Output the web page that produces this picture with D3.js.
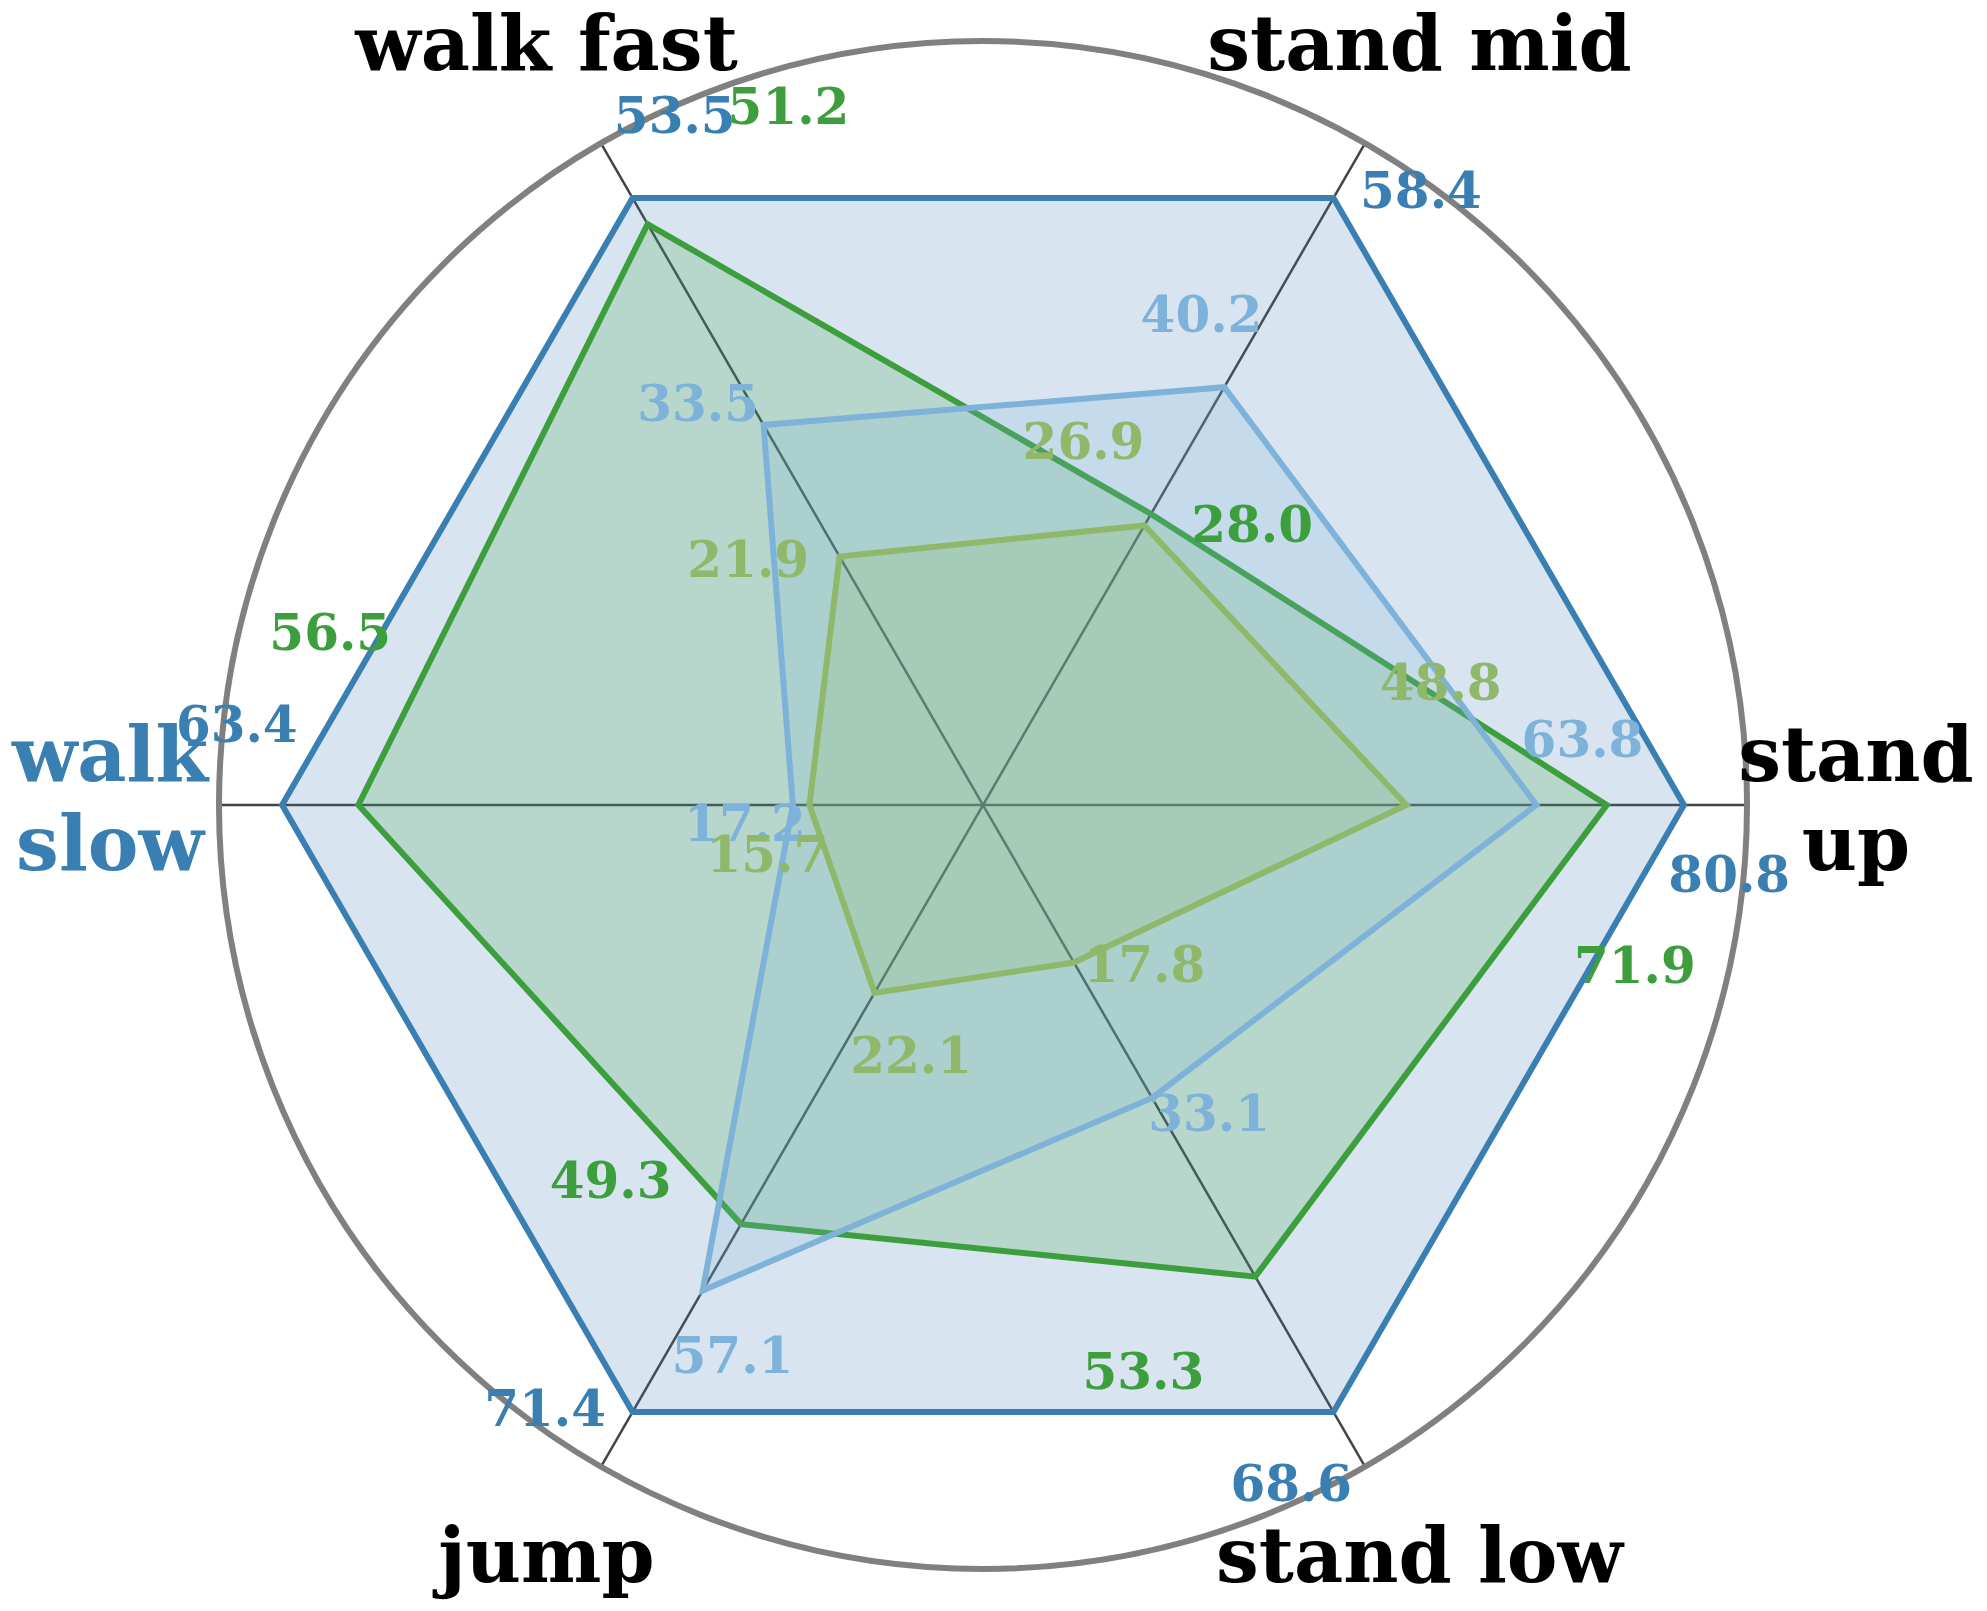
<!DOCTYPE html>
<html>
<head>
<meta charset="utf-8">
<script src="https://cdn.jsdelivr.net/npm/d3@7"></script>
<style>
  body { margin: 0; background: #fff; }
  text { font-family: "DejaVu Serif", serif; font-weight: bold; }
</style>
</head>
<body>
<svg class="radar"></svg>
<script>

// Axis names, counter-clockwise from the right.
var categories = ["stand up", "stand mid", "walk fast", "walk slow", "jump", "stand low"];

// Series values, one per axis.
var darkBlueValues = [80.8, 58.4, 53.5, 63.4, 71.4, 68.6];
var greenValues = [71.9, 28.0, 51.2, 56.5, 49.3, 53.3];
var lightBlueValues = [63.8, 40.2, 33.5, 17.2, 57.1, 33.1];
var oliveValues = [48.8, 26.9, 21.9, 15.7, 22.1, 17.8];

var highlighted = "walk slow";

var series = [
  {values: darkBlueValues, color: "#3a7fb2", shift: -0.1},
  {values: greenValues, color: "#3d9e3d", shift: -0.25},
  {values: lightBlueValues, color: "#7eb2d8", shift: 0.1},
  {values: oliveValues, color: "#90b86a", shift: 0.25}
];

var width = 1987,
    height = 1611,
    cx = 983,
    cy = 805,
    outer = 764;

var svg = d3.select(".radar")
    .attr("width", width)
    .attr("height", height);

var chart = svg.append("g")
    .attr("transform", "translate(" + cx + "," + cy + ")");

// Each axis is scaled by its largest value.
var axisMax = categories.map(function(c, i) {
  return d3.max(series, function(s) { return s.values[i]; });
});

var r = d3.scaleLinear()
    .domain([0, 1.09])
    .range([0, outer]);

var angle = d3.scaleLinear()
    .domain([0, categories.length])
    .range([0, 2 * Math.PI]);

function point(a, rad) {
  return [rad * Math.cos(a), -rad * Math.sin(a)];
}

drawGrid();
drawSeries();
drawValueLabels();
drawCategoryLabels();

/*
* Draw spokes and outer ring.
*/
function drawGrid() {

  chart.selectAll(".spoke")
      .data(categories)
    .enter().append("line")
      .attr("class", "spoke")
      .attr("x1", 0)
      .attr("y1", 0)
      .attr("x2", function(d, i) { return point(angle(i), outer)[0]; })
      .attr("y2", function(d, i) { return point(angle(i), outer)[1]; })
      .attr("stroke", "#444")
      .attr("stroke-width", 2.5);

  chart.append("circle")
      .attr("r", outer)
      .attr("fill", "none")
      .attr("stroke", "#808080")
      .attr("stroke-width", 6);
}

/*
* Draw filled polygons, one per series.
*/
function drawSeries() {

  var line = d3.lineRadial()
      .angle(function(d, i) { return Math.PI / 2 - angle(i); })
      .radius(function(d, i) { return r(d / axisMax[i]); })
      .curve(d3.curveLinearClosed);

  chart.selectAll(".area")
      .data(series)
    .enter().append("path")
      .attr("class", "area")
      .attr("d", function(s) { return line(s.values); })
      .attr("fill", function(s) { return s.color; })
      .attr("fill-opacity", 0.2)
      .attr("stroke", function(s) { return s.color; })
      .attr("stroke-width", 6)
      .attr("stroke-linejoin", "miter");
}

/*
* Write each value next to its vertex.
*/
function drawValueLabels() {

  series.forEach(function(s) {
    chart.append("g").selectAll("text")
        .data(s.values)
      .enter().append("text")
        .attr("x", function(d, i) { return point(angle(i) + s.shift, r(d / axisMax[i] + 0.07))[0]; })
        .attr("y", function(d, i) { return point(angle(i) + s.shift, r(d / axisMax[i] + 0.07))[1] + 12; })
        .attr("text-anchor", "middle")
        .style("font-size", "50px")
        .attr("fill", s.color)
        .text(function(d) { return d.toFixed(1); });
  });
}

/*
* Axis names around the ring, split over two lines where needed.
*/
function drawCategoryLabels() {

  var labels = chart.selectAll(".cat")
      .data(categories)
    .enter().append("text")
      .attr("class", "cat")
      .attr("text-anchor", "middle")
      .style("font-size", "76px")
      .attr("fill", function(d) { return d == highlighted ? "#3a7fb2" : "#000"; });

  labels.each(function(d, i) {
    var p = point(angle(i), 873);
    var words = (i == 0 || i == 3) ? d.split(" ") : [d];
    var first = words.length > 1 ? -24 : 21;
    d3.select(this).selectAll("tspan")
        .data(words)
      .enter().append("tspan")
        .attr("x", p[0])
        .attr("y", function(w, j) { return p[1] + first + j * 89; })
        .text(function(w) { return w; });
  });
}

</script>
</body>
</html>
